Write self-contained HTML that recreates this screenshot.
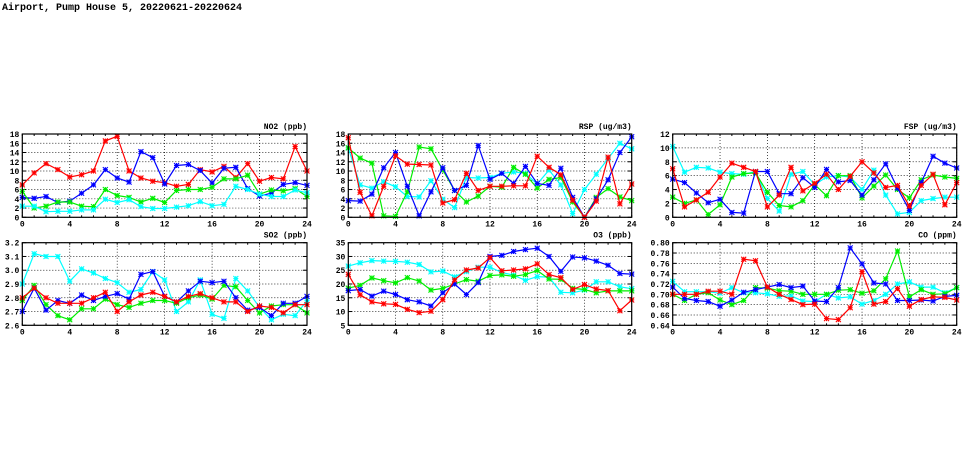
<!DOCTYPE html>
<html><head><meta charset="utf-8"><style>
body{margin:0;background:#fff;width:975px;height:447px;overflow:hidden}
svg text{font-family:"Liberation Mono","DejaVu Sans Mono",monospace;font-weight:bold;fill:#000}
</style></head><body>
<svg id="c" width="975" height="447">
<text x="2" y="10" font-size="10">Airport, Pump House 5, 20220621-20220624</text>
</svg>
<script>
const hours=[0,1,2,3,4,5,6,7,8,9,10,11,12,13,14,15,16,17,18,19,20,21,22,23,24];
const no2Red=[7,9.6,11.6,10.3,8.7,9.2,10,16.5,17.5,10,8.5,7.8,7.5,6.7,7.1,10.3,9.8,11,8.6,11.6,7.8,8.6,8.3,15.3,10];
const no2Blue=[4.3,4.1,4.5,3.2,3.5,5.2,7,10.3,8.5,7.6,14.2,12.9,7.2,11.2,11.4,10.1,7.4,10.6,10.8,6.2,4.6,5.2,7.1,7.5,6.9];
const no2Green=[5.6,2,2.4,3.3,3.3,2.4,2.3,6,4.7,4.3,3.3,4.1,3.2,5.8,6,6,6.5,8.3,8.3,9.1,5,5.9,5.7,6.2,4.5];
const no2Cyan=[2.4,2.4,1.2,1.3,1.3,1.6,1.6,3.9,3.2,3.8,2.3,1.9,1.9,2.2,2.5,3.4,2.5,2.8,6.7,6,5,4.5,4.5,5.9,5.3];
const so2Red=[2.8,2.87,2.8,2.76,2.76,2.76,2.8,2.84,2.7,2.77,2.82,2.84,2.81,2.77,2.81,2.83,2.8,2.77,2.77,2.7,2.74,2.73,2.69,2.75,2.75];
const so2Blue=[2.7,2.87,2.71,2.78,2.76,2.82,2.78,2.81,2.83,2.79,2.97,2.99,2.81,2.77,2.85,2.92,2.91,2.92,2.8,2.71,2.73,2.67,2.76,2.76,2.81];
const so2Green=[2.78,2.89,2.75,2.67,2.64,2.72,2.72,2.79,2.75,2.73,2.76,2.78,2.78,2.76,2.8,2.82,2.79,2.89,2.88,2.78,2.69,2.74,2.75,2.75,2.69];
const so2Cyan=[2.9,3.12,3.1,3.1,2.92,3.01,2.98,2.94,2.91,2.84,2.86,2.99,2.93,2.7,2.77,2.93,2.68,2.65,2.94,2.85,2.73,2.64,2.68,2.67,2.78];
const rspRed=[17.2,5.4,0.3,6.7,13.3,11.5,11.4,11.3,3.1,3.8,9.5,5.8,6.7,6.7,6.8,6.8,13.2,10.8,9.2,3.7,0,3.5,13,2.9,7.2];
const rspBlue=[3.6,3.5,5,10.7,14,6.7,0.3,5.5,10.7,5.8,6.9,15.5,8.2,9.5,7.3,11,7.3,6.9,10.6,4.3,0,4,8.1,14,17.4];
const rspGreen=[15,12.8,11.7,0.3,0.2,5.5,15.2,14.8,10.2,5.8,3.3,4.6,6.7,6.5,10.8,9.3,6.3,8.2,8.6,3.3,0,4.3,6.2,4.4,3.6];
const rspCyan=[15,7,6.3,7.7,6.6,4.5,4.4,7.9,3.9,2.1,8.6,8.5,8.6,9.5,9.8,9.5,7.2,10.2,7,0.8,6,9.3,12.7,16,14.8];
const o3Red=[23.5,16.1,13.5,12.8,12.6,10.8,9.6,10.1,14.3,21.5,25.1,25.8,29.6,24.8,25.1,25.5,27.3,23.4,22.3,18,19.8,18.2,17.6,10.3,14.2];
const o3Blue=[17.6,18,15.6,17.4,16.2,14.3,13.5,12,16.8,20,16.2,20.5,30,30.4,31.8,32.5,33,30,24.6,29.8,29.5,28.3,26.8,23.8,23.6];
const o3Green=[18.5,19.5,22.2,21.2,20.4,22.3,21.1,17.8,18.4,20,21.6,21,23.1,23.3,22.8,23.4,24.9,21.8,21.7,18.4,18,16.8,17.5,17.5,17.5];
const o3Cyan=[26.5,27.7,28.5,28.3,28.2,27.9,27.1,24.4,24.7,22.6,24.5,26.1,26.1,24.2,23.2,21.3,22.7,22.5,17,16.8,17.8,20.8,20.8,19,18.3];
const fspRed=[7,1.5,2.5,3.6,5.8,7.8,7.2,6.6,1.5,3.2,7.2,3.8,4.9,6.2,4,5.9,8,6.4,4.3,4.6,1.6,4.6,6.2,1.8,5];
const fspBlue=[5.5,5,3.5,2.1,2.6,0.7,0.6,6.6,6.6,3.4,3.4,5.7,4.3,6.9,5.1,5.3,3.2,5.4,7.7,4.2,1,5,8.8,7.8,7.1];
const fspGreen=[2.9,2,2.5,0.4,1.8,5.8,6.3,6.4,3.6,1.7,1.5,2.4,4.7,3.1,6,6,2.8,4.5,6.1,4,2.8,5.4,6.1,5.8,5.6];
const fspCyan=[10.2,6.5,7.2,7.1,6.5,6.3,6.2,6.6,2.7,0.9,6.2,6.6,4.7,5.8,6,5.8,4,6.8,3.2,0.5,0.7,2.4,2.7,2.9,2.9];
const coRed=[0.70,0.70,0.70,0.706,0.706,0.70,0.768,0.765,0.714,0.70,0.69,0.68,0.681,0.653,0.651,0.674,0.744,0.681,0.686,0.711,0.677,0.69,0.695,0.694,0.689];
const coBlue=[0.714,0.692,0.688,0.686,0.677,0.689,0.704,0.709,0.714,0.719,0.713,0.716,0.687,0.686,0.713,0.79,0.759,0.722,0.72,0.688,0.688,0.689,0.687,0.696,0.698];
const coGreen=[0.70,0.688,0.70,0.703,0.689,0.680,0.688,0.713,0.712,0.707,0.706,0.70,0.70,0.70,0.708,0.709,0.702,0.707,0.73,0.784,0.695,0.709,0.70,0.701,0.713];
const coCyan=[0.725,0.705,0.705,0.705,0.702,0.713,0.703,0.703,0.701,0.696,0.697,0.687,0.686,0.70,0.693,0.695,0.681,0.688,0.70,0.72,0.724,0.714,0.714,0.703,0.713];
const xTicks=[0,4,8,12,16,20,24];
const no2Ticks=[0,2,4,6,8,10,12,14,16,18];
const so2Ticks=[2.6,2.7,2.8,2.9,3.0,3.1,3.2];
const rspTicks=[0,2,4,6,8,10,12,14,16,18];
const o3Ticks=[5,10,15,20,25,30,35];
const fspTicks=[0,2,4,6,8,10,12];
const coTicks=[0.64,0.66,0.68,0.70,0.72,0.74,0.76,0.78,0.80];

const NS="http://www.w3.org/2000/svg";
const svg=document.getElementById('c');
function mk(tag,attrs,parent){const e=document.createElementNS(NS,tag);for(const k in attrs)e.setAttribute(k,attrs[k]);(parent||svg).appendChild(e);return e;}

function panel(name,title,x0,x1,y0,y1,ticks,dec,series){
  const g=mk('g',{});
  
  
  const lo=ticks[0],hi=ticks[ticks.length-1];
  const X=v=>x0+(v-0)/24*(x1-x0);
  const Y=v=>y1-(v-lo)/(hi-lo)*(y1-y0);
  ticks.forEach(t=>{
    const y=Y(t);
    const gl=mk('line',{x1:x0,x2:x1,y1:y,y2:y,stroke:'#000','stroke-width':0.7,'stroke-dasharray':'1,2'},g);
    
    
    mk('line',{x1:x0,x2:x0+4,y1:y,y2:y,stroke:'#000'},g);
    mk('line',{x1:x1-4,x2:x1,y1:y,y2:y,stroke:'#000'},g);
    const tl=mk('text',{x:x0-3,y:y+3,'font-size':8,'text-anchor':'end'},g);
    tl.textContent=t.toFixed(dec);
    
    
  });
  for(let h=0;h<=24;h++){mk('line',{x1:X(h),x2:X(h),y1:y1,y2:y1-2,stroke:'#000'},g);mk('line',{x1:X(h),x2:X(h),y1:y0,y2:y0+2,stroke:'#000'},g);}
  xTicks.forEach(t=>{
    const x=X(t);
    const gl=mk('line',{x1:x,x2:x,y1:y0,y2:y1,stroke:'#000','stroke-width':0.7,'stroke-dasharray':'1,2'},g);
    
    
    const tl=mk('text',{x:x,y:y1+9,'font-size':8,'text-anchor':'middle'},g);
    tl.textContent=t;
    
    
  });
  const ttl=mk('text',{x:x1,y:y0-5,'font-size':8,'text-anchor':'end'},g);
  ttl.textContent=title;
  
  
  series.forEach(([col,vals,sn])=>{
    const pts=vals.map((v,i)=>X(hours[i]).toFixed(1)+','+Y(v).toFixed(1)).join(' ');
    const pl=mk('polyline',{points:pts,fill:'none',stroke:col,'stroke-width':1.2},g);
    
    
    vals.forEach((v,i)=>{
      const cx=X(hours[i]),cy=Y(v),r=2.5;
      const m=mk('path',{d:`M${cx-r},${cy-r}L${cx+r},${cy+r}M${cx-r},${cy+r}L${cx+r},${cy-r}M${cx},${cy-r}L${cx},${cy+r}M${cx-r},${cy}L${cx+r},${cy}`,stroke:col,'stroke-width':1.1,fill:'none'},g);
      
      
    });
  });
  const fr=mk('rect',{x:x0,y:y0,width:x1-x0,height:y1-y0,fill:'none',stroke:'#000','stroke-width':1.2},g);
  
  
}
panel('no2','NO2 (ppb)',22.3,307,134,217.3,no2Ticks,0,[['#ff0000',no2Red,'red'],['#0000ff',no2Blue,'blue'],['#00ee00',no2Green,'green'],['#00ffff',no2Cyan,'cyan']]);
panel('so2','SO2 (ppb)',22.3,307,242.7,325.3,so2Ticks,1,[['#00ffff',so2Cyan,'cyan'],['#00ee00',so2Green,'green'],['#0000ff',so2Blue,'blue'],['#ff0000',so2Red,'red']]);
panel('rsp','RSP (ug/m3)',348.3,631.7,134,217.3,rspTicks,0,[['#00ffff',rspCyan,'cyan'],['#00ee00',rspGreen,'green'],['#0000ff',rspBlue,'blue'],['#ff0000',rspRed,'red']]);
panel('o3','O3 (ppb)',348.3,631.7,242.7,325.3,o3Ticks,0,[['#00ffff',o3Cyan,'cyan'],['#00ee00',o3Green,'green'],['#0000ff',o3Blue,'blue'],['#ff0000',o3Red,'red']]);
panel('fsp','FSP (ug/m3)',672.7,956.7,134,217.3,fspTicks,0,[['#00ffff',fspCyan,'cyan'],['#00ee00',fspGreen,'green'],['#0000ff',fspBlue,'blue'],['#ff0000',fspRed,'red']]);
panel('co','CO (ppm)',672.7,956.7,242.7,325.3,coTicks,2,[['#00ffff',coCyan,'cyan'],['#00ee00',coGreen,'green'],['#0000ff',coBlue,'blue'],['#ff0000',coRed,'red']]);
</script>
</body></html>
